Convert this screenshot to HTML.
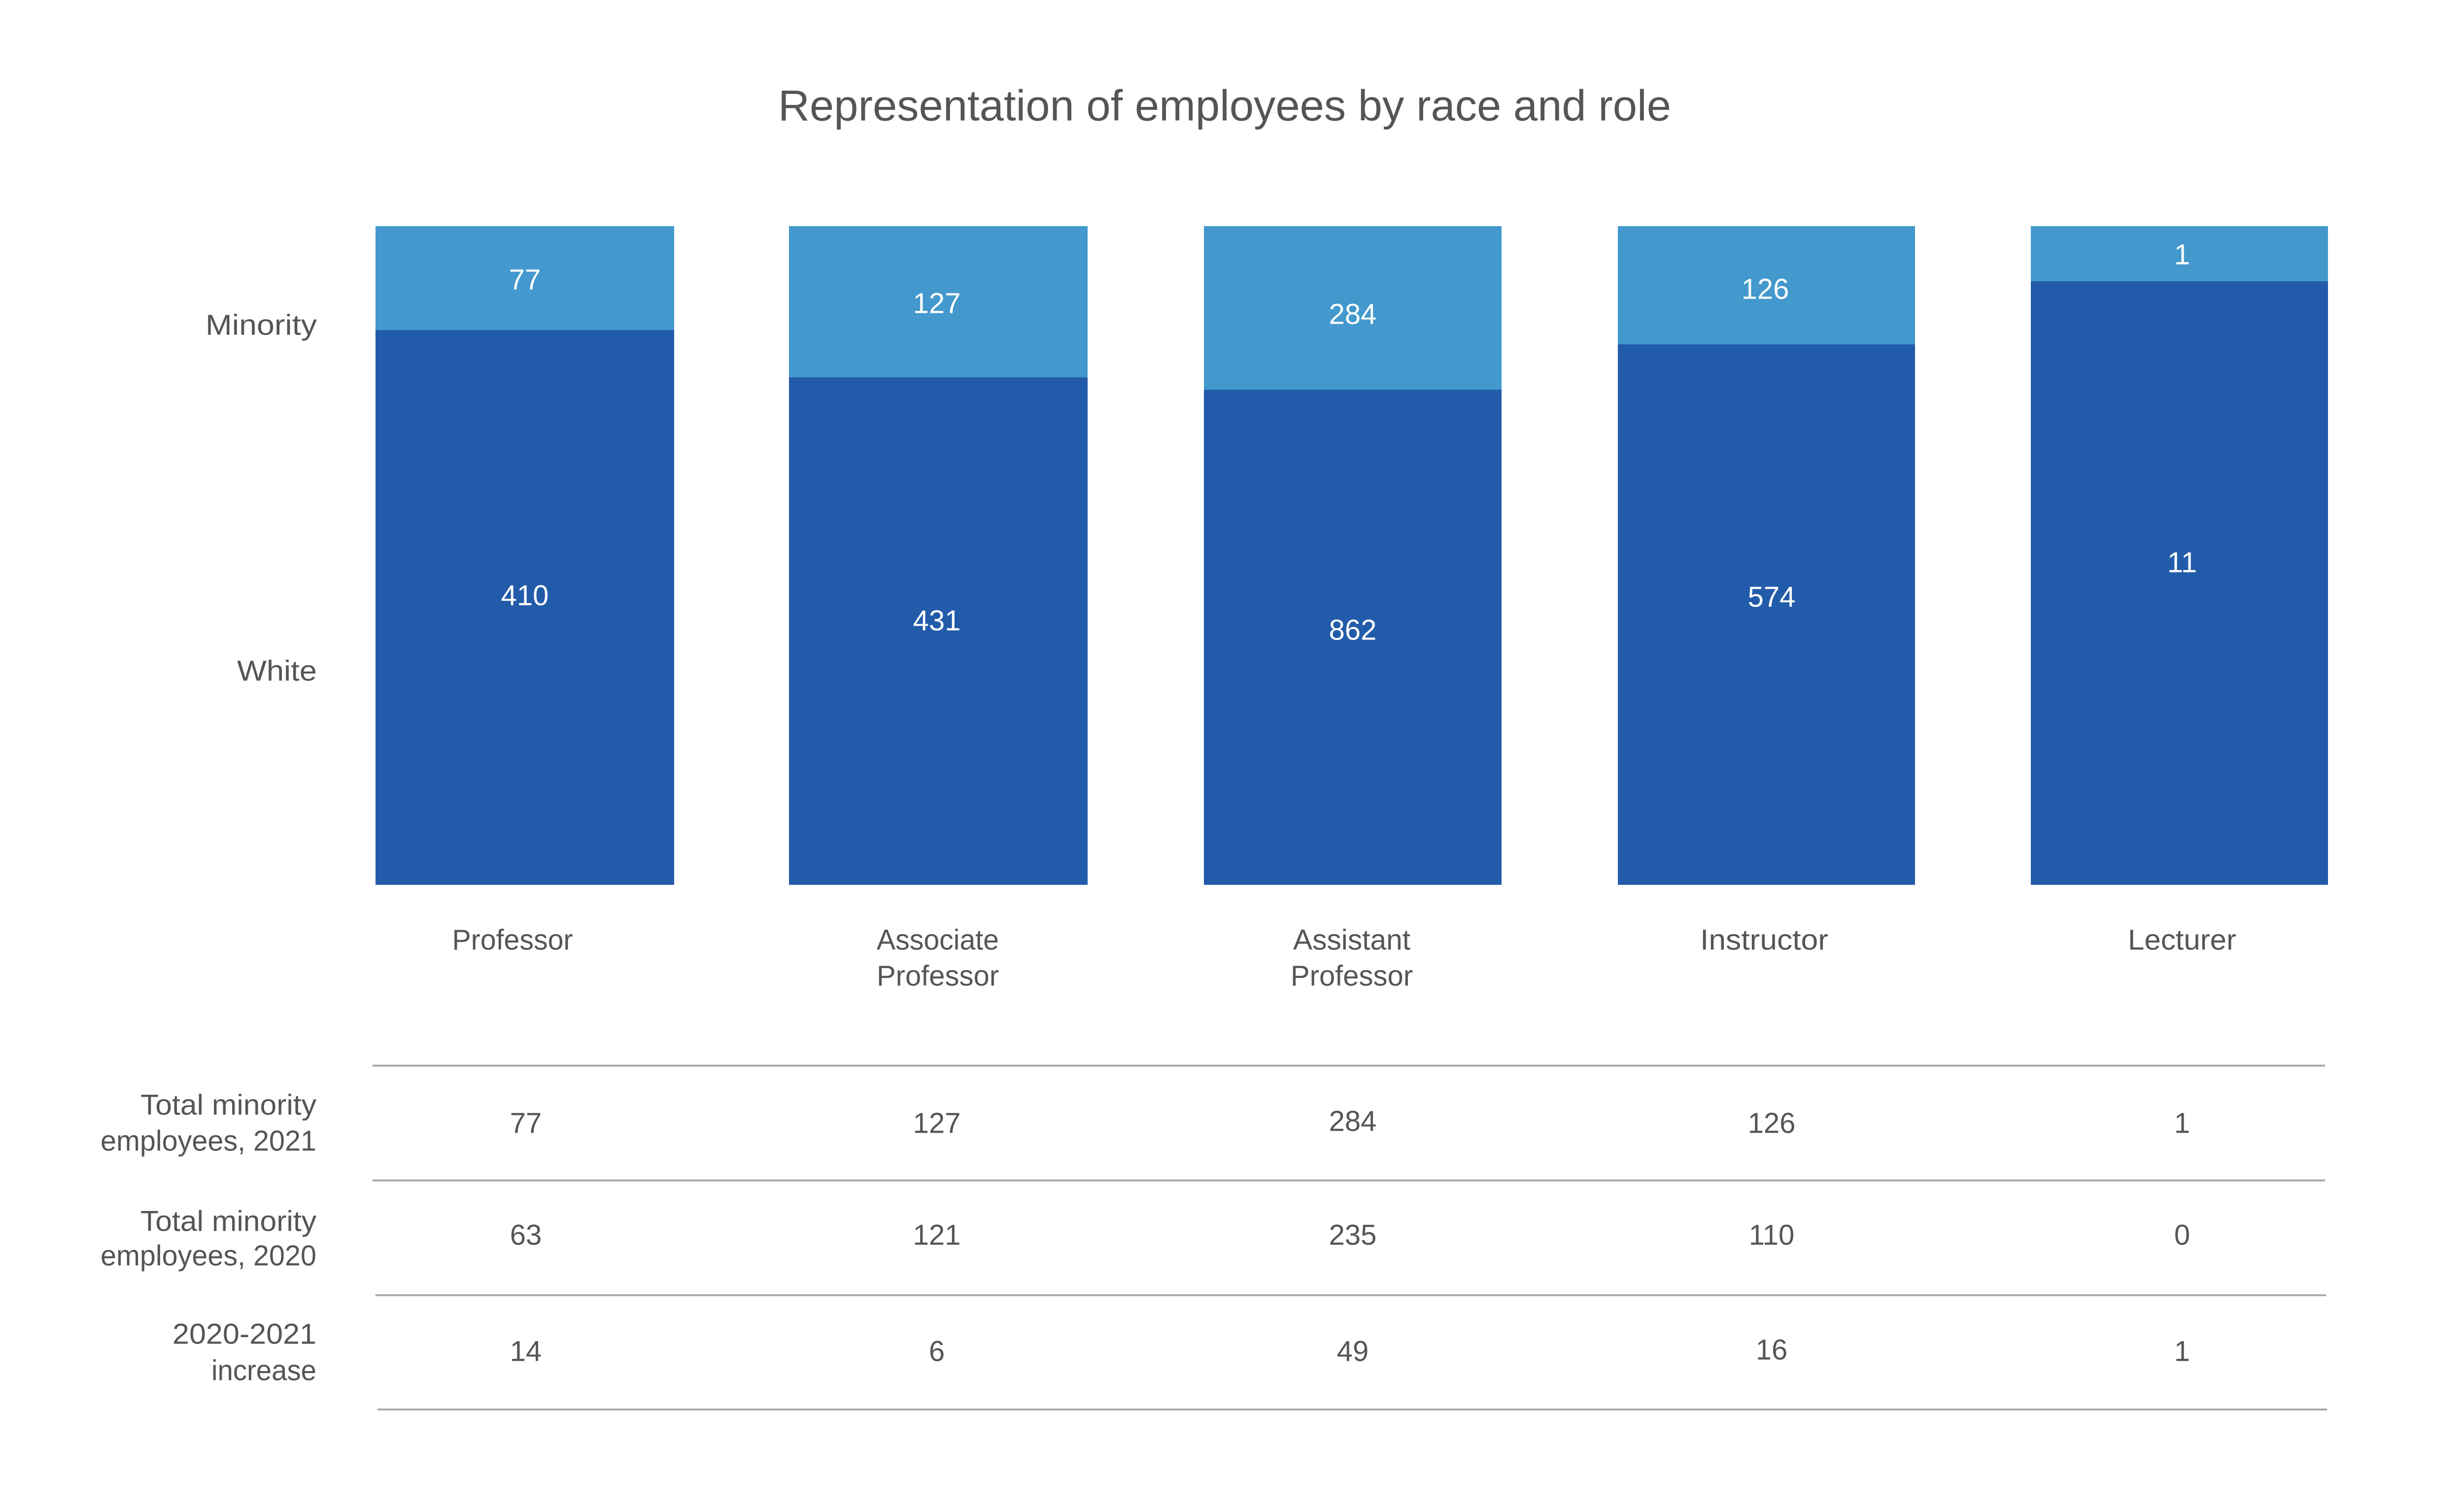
<!DOCTYPE html>
<html><head><meta charset="utf-8"><style>html,body{margin:0;padding:0;background:#fff;width:5273px;height:3069px;overflow:hidden}svg{display:block}</style></head>
<body>
<svg width="5273" height="3069" viewBox="0 0 5273 3069" xmlns="http://www.w3.org/2000/svg" font-family="'Liberation Sans', sans-serif">
<rect width="5273" height="3069" fill="#fff"/>
<text x="2485" y="214" dominant-baseline="central" text-anchor="middle" font-size="88" fill="#555" textLength="1812" lengthAdjust="spacingAndGlyphs">Representation of  employees by race and role</text>
<g fill="#225BAA">
<rect x="762" y="459" width="606" height="1337"/>
<rect x="1601" y="459" width="606" height="1337"/>
<rect x="2443" y="459" width="604" height="1337"/>
<rect x="3283" y="459" width="603" height="1337"/>
<rect x="4121" y="459" width="603" height="1337"/>
</g>
<g fill="#4398CD">
<rect x="762" y="459" width="606" height="211"/>
<rect x="1601" y="459" width="606" height="307"/>
<rect x="2443" y="459" width="604" height="332"/>
<rect x="3283" y="459" width="603" height="240"/>
<rect x="4121" y="459" width="603" height="112"/>
</g>
<g fill="#fff" font-size="58" text-anchor="middle" dominant-baseline="central">
<text x="1065" y="568">77</text><text x="1065" y="1209">410</text>
<text x="1901" y="616">127</text><text x="1901" y="1260">431</text>
<text x="2745" y="638">284</text><text x="2745" y="1279">862</text>
<text x="3582" y="587">126</text><text x="3595" y="1212">574</text>
<text x="4428" y="517">1</text><text x="4428" y="1142">11</text>
</g>
<g fill="#555" font-size="58" dominant-baseline="central">
<text x="643" y="660" text-anchor="end" textLength="226" lengthAdjust="spacingAndGlyphs">Minority</text>
<text x="643" y="1362" text-anchor="end" textLength="162" lengthAdjust="spacingAndGlyphs">White</text>
<g text-anchor="middle">
<text x="1040" y="1908" textLength="245" lengthAdjust="spacingAndGlyphs">Professor</text>
<text x="1903" y="1908" textLength="248" lengthAdjust="spacingAndGlyphs">Associate</text>
<text x="1903" y="1981" textLength="248" lengthAdjust="spacingAndGlyphs">Professor</text>
<text x="2743" y="1908" textLength="238" lengthAdjust="spacingAndGlyphs">Assistant</text>
<text x="2743" y="1981" textLength="248" lengthAdjust="spacingAndGlyphs">Professor</text>
<text x="3580" y="1908" textLength="260" lengthAdjust="spacingAndGlyphs">Instructor</text>
<text x="4428" y="1908" textLength="220" lengthAdjust="spacingAndGlyphs">Lecturer</text>
</g>
<g text-anchor="end">
<text x="642" y="2243" textLength="357" lengthAdjust="spacingAndGlyphs">Total minority</text>
<text x="642" y="2316" textLength="438" lengthAdjust="spacingAndGlyphs">employees, 2021</text>
<text x="642" y="2479" textLength="357" lengthAdjust="spacingAndGlyphs">Total minority</text>
<text x="642" y="2549" textLength="438" lengthAdjust="spacingAndGlyphs">employees, 2020</text>
<text x="642" y="2708" textLength="292" lengthAdjust="spacingAndGlyphs">2020-2021</text>
<text x="642" y="2782" textLength="213" lengthAdjust="spacingAndGlyphs">increase</text>
</g>
<g text-anchor="middle">
<text x="1067" y="2280">77</text><text x="1901" y="2280">127</text><text x="2745" y="2276">284</text><text x="3595" y="2280">126</text><text x="4428" y="2280">1</text>
<text x="1067" y="2507">63</text><text x="1901" y="2507">121</text><text x="2745" y="2507">235</text><text x="3595" y="2507">110</text><text x="4428" y="2507">0</text>
<text x="1067" y="2743">14</text><text x="1901" y="2743">6</text><text x="2745" y="2743">49</text><text x="3595" y="2740">16</text><text x="4428" y="2743">1</text>
</g>
</g>
<g stroke="#aaa" stroke-width="4">
<line x1="756" y1="2163" x2="4718" y2="2163"/>
<line x1="756" y1="2396" x2="4718" y2="2396"/>
<line x1="762" y1="2629" x2="4720" y2="2629"/>
<line x1="766" y1="2861" x2="4722" y2="2861"/>
</g>
</svg>
</body></html>
